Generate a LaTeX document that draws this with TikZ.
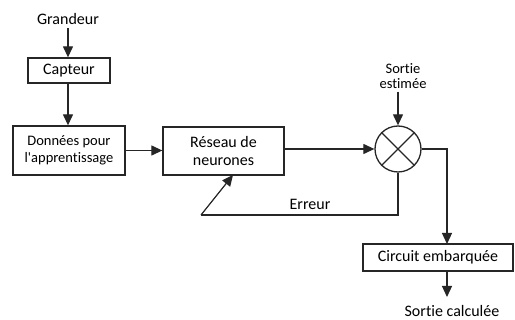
\documentclass[tikz,border=0pt]{standalone}
\usepackage{fontspec}
\setmainfont{Carlito}[Ligatures={NoCommon}]
\usetikzlibrary{arrows.meta,calc}
\begin{document}
\begin{tikzpicture}[x=1pt,y=-1pt,
  box/.style={draw=black!85,line width=1.3pt,inner sep=0pt,font=\fontsize{16}{18}\selectfont,align=center},
  lbl/.style={font=\fontsize{16}{18}\selectfont,align=center,inner sep=0pt},
  wire/.style={draw=black!85,line width=1.2pt},
  arr/.style={wire,-{Triangle[length=11pt,width=10pt]}},
  ]
\useasboundingbox (0,0) rectangle (515,320);

% blocks
\node[lbl] (grandeur) at (68,19) {Grandeur};
\node[box,minimum width=82pt,minimum height=25pt] (capteur) at (69,70.5) {Capteur};
\node[box,minimum width=112pt,minimum height=49pt,font=\fontsize{14.5}{17}\selectfont] (donnees) at (69,150.5) {Données pour\\l\textquotesingle apprentissage};
\node[box,minimum width=121pt,minimum height=48pt] (reseau) at (223.5,151) {Réseau de\\neurones};
\node[draw=black!85,line width=1.3pt,circle,minimum size=46pt,inner sep=0pt] (sum) at (398,149) {};
\draw[wire] (sum.north west) -- (sum.south east);
\draw[wire] (sum.north east) -- (sum.south west);
\node[lbl,font=\fontsize{14.5}{15}\selectfont] (sest) at (403,76) {Sortie\\estimée};
\node[box,minimum width=150pt,minimum height=27pt] (circuit) at (438,257.5) {Circuit embarquée};
\node[lbl] (scalc) at (452,311) {Sortie calculée};

% helper points
\coordinate (tap) at (447,244);
\coordinate (tapo) at (447,271);
\coordinate (calcend) at (447,297);
\coordinate (errleft) at (201,215);
\coordinate (rin) at (233,175);

% connectors
\draw[arr] (grandeur.south) ++(0,3) -- (capteur.north -| grandeur);
\draw[arr] (capteur.south -| grandeur) -- (donnees.north -| grandeur);
\draw[arr] (donnees.east) -- (reseau.west |- donnees.east);
\draw[arr] (reseau.east |- sum.west) -- (sum.west);
\draw[arr] (sest.south -| sum) ++(0,3) -- (sum.north);
\draw[arr] (sum.east) -| (tap);
\draw[arr] (tapo) -- (calcend);
\draw[wire] (sum.south) |- (errleft);
\draw[arr] (errleft) -- (rin);
\node[lbl] (erreur) at (310,204) {Erreur};
\end{tikzpicture}
\end{document}
